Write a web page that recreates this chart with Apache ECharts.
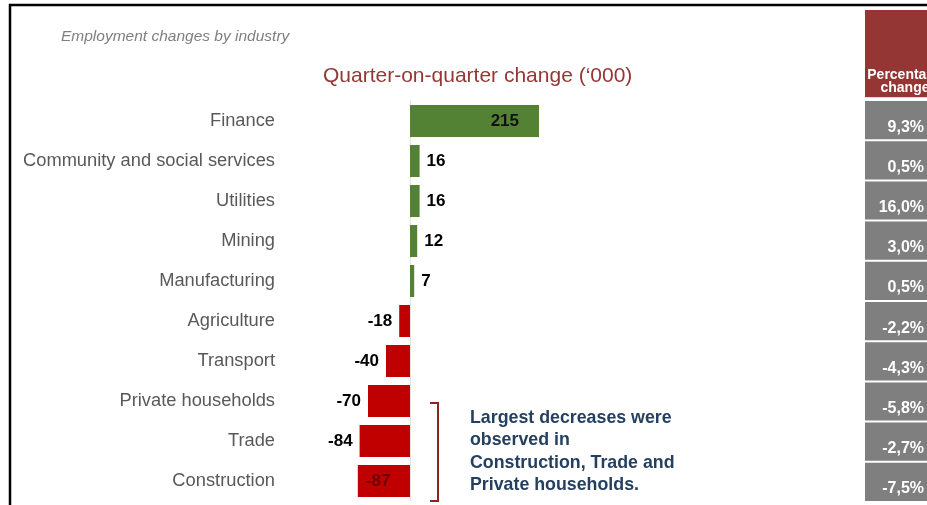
<!DOCTYPE html>
<html>
<head>
<meta charset="utf-8">
<title>Employment changes by industry</title>
<script src="https://cdn.jsdelivr.net/npm/echarts@6/dist/echarts.min.js"></script>
<style>
  html, body { margin: 0; padding: 0; background: #ffffff; }
  #chart { width: 927px; height: 505px; }
</style>
</head>
<body>
<div id="chart"></div>
<script>
// Industries, top to bottom
const categories = [
  'Finance', 'Community and social services', 'Utilities', 'Mining', 'Manufacturing',
  'Agriculture', 'Transport', 'Private households', 'Trade', 'Construction'
];
// Quarter-on-quarter change in employment ('000)
const qoqChange = [215, 16, 16, 12, 7, -18, -40, -70, -84, -87];
// Percentage change for the same quarter
const pctChange = [9.3, 0.5, 16.0, 3.0, 0.5, -2.2, -4.3, -5.8, -2.7, -7.5];

const FONT = '"Liberation Sans", Arial, sans-serif';
const GREEN = '#548235';
const RED = '#c00000';

const maxVal = Math.max(...qoqChange);
const minVal = Math.min(...qoqChange);

// Bars coloured by sign; the longest bars carry their label inside
const barData = qoqChange.map(v => {
  const item = { value: v, itemStyle: { color: v >= 0 ? GREEN : RED } };
  if (v === maxVal) {
    item.label = { position: 'insideRight', distance: 20, color: '#111' };
  } else if (v === minVal) {
    item.label = { position: 'insideLeft', distance: 8, color: '#6e0000' };
  } else {
    item.label = { position: v >= 0 ? 'right' : 'left', distance: 7, color: '#000' };
  }
  return item;
});

const fmtPct = v => v.toFixed(1).replace('.', ',') + '%';

const chart = echarts.init(document.getElementById('chart'), null, { renderer: 'canvas' });

chart.setOption({
  backgroundColor: '#ffffff',
  animation: false,
  title: [
    {
      text: 'Employment changes by industry',
      left: 61, top: 29, padding: 0,
      textStyle: { fontFamily: FONT, fontSize: 15.5, fontStyle: 'italic', fontWeight: 'normal', color: '#7f7f7f' }
    },
    {
      text: 'Quarter-on-quarter change (\u2018000)',
      left: 323, top: 66, padding: 0,
      textStyle: { fontFamily: FONT, fontSize: 21, fontWeight: 'normal', color: '#953735' }
    }
  ],
  grid: [
    { left: 350, top: 101, width: 210, height: 400 },
    { left: 865, top: 100, width: 80, height: 402 }
  ],
  xAxis: [
    { gridIndex: 0, type: 'value', min: -100, max: 250, show: false },
    { gridIndex: 1, type: 'value', min: 0, max: 1, show: false }
  ],
  yAxis: [
    {
      gridIndex: 0, type: 'category', data: categories, inverse: true,
      axisLine: { show: true, onZero: true, lineStyle: { color: '#e4e4e4', width: 1 } },
      axisTick: { show: false },
      axisLabel: { margin: 75, fontFamily: FONT, fontSize: 18.3, color: '#595959' }
    },
    {
      gridIndex: 1, type: 'category', data: categories, inverse: true, show: false
    }
  ],
  series: [
    {
      type: 'bar',
      xAxisIndex: 0, yAxisIndex: 0,
      data: barData,
      barWidth: '80%',
      label: { show: true, fontFamily: FONT, fontSize: 17, fontWeight: 'bold' }
    },
    {
      // Percentage change column, one grey cell per industry
      type: 'custom',
      xAxisIndex: 1, yAxisIndex: 1,
      data: pctChange.map((v, i) => [0, i, v]),
      encode: { x: 0, y: 1 },
      renderItem: function (params, api) {
        const idx = api.value(1);
        const pt = api.coord([0, idx]);
        const size = api.size([1, 1]);
        const top = pt[1] - size[1] / 2;
        return {
          type: 'group',
          children: [
            {
              type: 'rect',
              shape: { x: pt[0], y: top + 1, width: size[0], height: size[1] - 2 },
              style: { fill: '#7f7f7f' }
            },
            {
              type: 'text',
              style: {
                x: pt[0] + 59, y: top + size[1] - 5,
                text: fmtPct(api.value(2)),
                fill: '#ffffff',
                font: 'bold 16px ' + FONT,
                align: 'right', verticalAlign: 'bottom'
              }
            }
          ]
        };
      }
    }
  ],
  graphic: [
    // Frame on the top and left edges
    {
      type: 'polyline', silent: true,
      shape: { points: [[10, 506], [10, 5], [928, 5]] },
      style: { stroke: '#000000', lineWidth: 2.5, fill: null }
    },
    // Header of the percentage column
    {
      type: 'rect', silent: true,
      shape: { x: 865, y: 10, width: 80, height: 87 },
      style: { fill: '#943634' }
    },
    {
      type: 'line', silent: true,
      shape: { x1: 865, y1: 97.5, x2: 945, y2: 97.5 },
      style: { stroke: '#d9d9d9', lineWidth: 1 }
    },
    {
      type: 'text', silent: true,
      style: {
        x: 905, y: 68, text: 'Percentage\nchange',
        font: 'bold 14px ' + FONT, fill: '#ffffff',
        align: 'center', verticalAlign: 'top', lineHeight: 13.5
      }
    },
    // Bracket grouping the three largest decreases
    {
      type: 'polyline', silent: true,
      shape: { points: [[430, 403], [438, 403], [438, 501], [430, 501]] },
      style: { stroke: '#8b2525', lineWidth: 2, fill: null }
    },
    {
      type: 'text', silent: true,
      style: {
        x: 470, y: 407,
        text: 'Largest decreases were\nobserved in\nConstruction, Trade and\nPrivate households.',
        font: 'bold 17.8px ' + FONT, fill: '#243f60',
        lineHeight: 22.3, align: 'left', verticalAlign: 'top'
      }
    }
  ]
});
</script>
</body>
</html>
